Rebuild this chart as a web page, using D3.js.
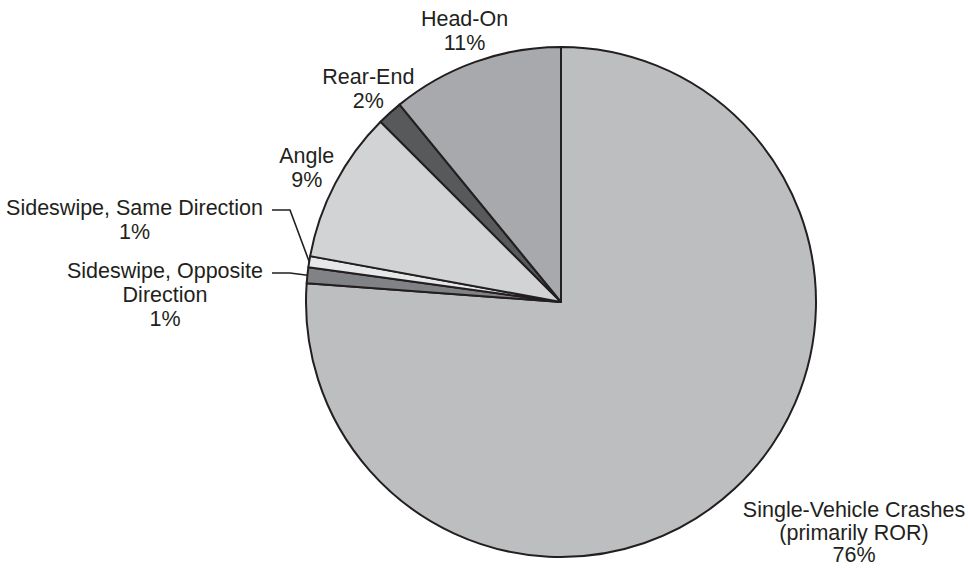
<!DOCTYPE html>
<html>
<head>
<meta charset="utf-8">
<script src="https://cdn.jsdelivr.net/npm/d3@7"></script>
<style>
  html, body { margin: 0; padding: 0; background: #fff; }
  svg { display: block; }
  text { font-family: "Liberation Sans", Arial, Helvetica, sans-serif; fill: #231f20; }
</style>
</head>
<body>
<svg id="chart" width="968" height="569"></svg>
<script>
// ---- data (clockwise from 12 o'clock) ----
const categories = [
  "Single-Vehicle Crashes|(primarily ROR)",
  "Sideswipe, Opposite|Direction",
  "Sideswipe, Same Direction",
  "Angle",
  "Rear-End",
  "Head-On"
];
const values = [76.1, 1.0, 0.7, 9.6, 1.6, 10.9];
const percentLabels = ["76%", "1%", "1%", "9%", "2%", "11%"];
const colors = ["#bcbec0", "#808285", "#e6e7e8", "#d1d3d4", "#58595b", "#a7a9ac"];

// ---- layout ----
const W = 968, H = 569;
const cx = 561, cy = 302, R = 255;
const fontSize = 21.5, lineH = 24;
const svg = d3.select("#chart");
const g = svg.append("g").attr("transform", `translate(${cx},${cy})`);

const pie = d3.pie().sort(null).value(d => d.v).startAngle(0).endAngle(2 * Math.PI);
const data = categories.map((c, i) => ({ name: c, v: values[i], pct: percentLabels[i], color: colors[i] }));
const arcs = pie(data);
const arc = d3.arc().innerRadius(0).outerRadius(R);

g.selectAll("path.slice").data(arcs).enter().append("path")
  .attr("class", "slice")
  .attr("d", arc)
  .attr("fill", d => d.data.color)
  .attr("stroke", "#231f20")
  .attr("stroke-width", 2)
  .attr("stroke-linejoin", "round");

function lines(d) { return d.data.name.split("|").concat([d.data.pct]); }

const labelR = 287;
arcs.forEach((d, i) => {
  const ls = lines(d);
  const mid = (d.startAngle + d.endAngle) / 2;
  if (i === 0) {
    // Single-vehicle: placed at lower right beyond the arc
    const tx = cx + 293, ty0 = cy + 215;
    const t = svg.append("text").attr("text-anchor", "middle").attr("font-size", fontSize);
    ls.forEach((s, k) => t.append("tspan").attr("x", tx).attr("y", ty0 + k * 22.5).text(s));
  } else if (i === 1 || i === 2) {
    // leader labels to the left
    const edgeX = cx - 298;           // right edge of text block
    const elbowX = cx - 271;
    const base0 = (i === 1) ? cy - 24 : cy - 87;
    const ax = Math.sin(mid) * R, ay = -Math.cos(mid) * R;
    const t = svg.append("text").attr("text-anchor", "middle").attr("font-size", fontSize);
    const first = t.append("tspan").attr("x", 0).attr("y", base0).text(ls[0]);
    const w = first.node().getComputedTextLength();
    const center = edgeX - w / 2;
    first.attr("x", center);
    ls.slice(1).forEach((s, k) => t.append("tspan").attr("x", center).attr("y", base0 + (k + 1) * lineH).text(s));
    const ly = base0 - 5;
    svg.append("polyline")
      .attr("points", `${edgeX + 9},${ly} ${elbowX},${ly} ${cx + ax},${cy + ay}`)
      .attr("fill", "none").attr("stroke", "#231f20").attr("stroke-width", 1.6);
  } else {
    const x = cx + Math.sin(mid) * labelR;
    const y = cy - Math.cos(mid) * labelR;
    const n = ls.length;
    const base0 = y - ((n - 1) * lineH) / 2 + 7.5 - 1;
    const t = svg.append("text").attr("text-anchor", "middle").attr("font-size", fontSize);
    ls.forEach((s, k) => t.append("tspan").attr("x", x).attr("y", base0 + k * lineH).text(s));
  }
});
</script>
</body>
</html>
